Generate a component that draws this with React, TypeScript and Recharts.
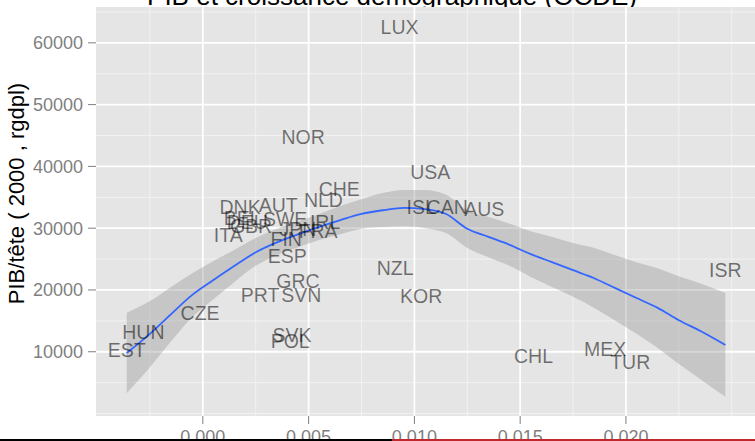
import {
  Area,
  CartesianGrid,
  ComposedChart,
  Line,
  Scatter,
  XAxis,
  YAxis,
} from "recharts";

// OECD countries: population growth (x) vs GDP per head (y)
const countryCodes = [
  "LUX", "NOR", "USA", "CHE", "NLD", "AUT", "DNK", "BEL", "DEU", "GBR",
  "SWE", "JPN", "FRA", "IRL", "FIN", "ITA", "ESP", "GRC", "PRT", "SVN",
  "ISL", "CAN", "AUS", "NZL", "KOR", "ISR", "CZE", "HUN", "EST", "SVK",
  "POL", "CHL", "MEX", "TUR",
];
const popGrowth = [
  0.0093, 0.00474, 0.01075, 0.00645, 0.0057, 0.00356, 0.00176, 0.00186, 0.0021, 0.00228,
  0.00389, 0.0045, 0.00545, 0.00578, 0.00394, 0.0012, 0.00399, 0.0045, 0.00271, 0.00465,
  0.01032, 0.01155, 0.0133, 0.00909, 0.01032, 0.0247, -0.00013, -0.00281, -0.0036, 0.00421,
  0.00413, 0.01563, 0.01902, 0.0202,
];
const gdpPerHead = [
  62500, 44700, 39100, 36300, 34500, 33700, 33400, 31600, 31000, 30300,
  31500, 29900, 29500, 31000, 28200, 28900, 25500, 21400, 19200, 19200,
  33400, 33400, 33100, 23500, 19000, 23200, 16300, 13200, 10300, 12700,
  11800, 9300, 10400, 8400,
];

// loess smooth and its confidence band
const smoothX = [
  -0.0036, -0.0025, -0.0015, -0.0005, 0.0005, 0.0015, 0.0025, 0.0035, 0.0045, 0.0055,
  0.0065, 0.0075, 0.0085, 0.0095, 0.0105, 0.0115, 0.0125, 0.0135, 0.0145, 0.0155,
  0.0165, 0.0175, 0.0185, 0.0195, 0.0205, 0.0215, 0.0225, 0.0235, 0.0247,
];
const smoothFit = [
  9800, 12900, 16100, 19200, 21600, 23900, 26100, 27700, 29000, 30200,
  31300, 32300, 32900, 33300, 33100, 32300, 29900, 28600, 27300, 25800,
  24500, 23200, 21900, 20300, 18700, 17100, 15100, 13400, 11100,
];
const smoothLow = [
  3300, 7500, 11700, 15600, 18500, 21300, 23900, 25600, 26900, 28100,
  29000, 29900, 30200, 30300, 30000, 29200, 26800, 25300, 23900, 22100,
  20500, 18900, 17100, 15000, 12900, 10600, 8000, 5600, 2700,
];
const smoothHigh = [
  16300, 18200, 20500, 22700, 24700, 26500, 28400, 29900, 31100, 32300,
  33600, 34700, 35700, 36200, 36200, 35400, 32900, 31800, 30700, 29500,
  28600, 27600, 26800, 25600, 24500, 23500, 22200, 21100, 19500,
];

const xTicks = [0, 0.005, 0.01, 0.015, 0.02];
const yTicks = [10000, 20000, 30000, 40000, 50000, 60000];
const xMinor = [-0.0025, 0.0025, 0.0075, 0.0125, 0.0175, 0.0225, 0.025];
const yMinor = [0, 5000, 15000, 25000, 35000, 45000, 55000, 65000];

const countries = countryCodes.map((code, i) => ({
  code,
  x: popGrowth[i],
  y: gdpPerHead[i],
}));

const smoothRows = smoothX.map((x, i) => ({
  x,
  fit: smoothFit[i],
  band: [smoothLow[i], smoothHigh[i]],
}));

const font = "'Liberation Sans', Arial, Helvetica, sans-serif";
const tickStyle = { fontSize: 18, fill: "#7f7f7f", fontFamily: font };

function CountryLabel(props: any) {
  const { cx, cy, payload } = props;
  return (
    <text
      x={cx}
      y={cy}
      dy="0.36em"
      textAnchor="middle"
      fontSize={19.5}
      fontFamily={font}
      fill="#000"
      fillOpacity={0.53}
    >
      {payload.code}
    </text>
  );
}

export default function App() {
  return (
    <div
      style={{
        position: "absolute",
        left: 0,
        top: 0,
        width: 755,
        height: 441,
        overflow: "hidden",
        background: "#fff",
      }}
    >
      {/* title and y title sit behind the chart */}
      <svg
        width={755}
        height={441}
        style={{ position: "absolute", left: 0, top: 0 }}
      >
        <text x={392} y={5} textAnchor="middle" fontSize={26} fontFamily={font} fill="#000">
          PIB et croissance démographique (OCDE)
        </text>
        <text
          x={23.5}
          y={193.5}
          transform="rotate(-90 23.5 193.5)"
          textAnchor="middle"
          fontSize={22}
          fontFamily={font}
          fill="#000"
        >
          PIB/tête ( 2000 , rgdpl)
        </text>
      </svg>

      <div style={{ position: "absolute", left: 0, top: 0 }}>
        <ComposedChart
          width={755}
          height={441}
          data={smoothRows}
          margin={{ top: 7, right: 0, bottom: 0, left: 0 }}
        >
          <CartesianGrid
            fill="#e5e5e5"
            stroke="#f2f2f2"
            strokeWidth={1}
            horizontalValues={yMinor}
            verticalValues={xMinor}
          />
          <CartesianGrid
            stroke="#ffffff"
            strokeWidth={1.8}
            horizontalValues={yTicks}
            verticalValues={xTicks}
          />
          <XAxis
            dataKey="x"
            type="number"
            domain={[-0.00505, 0.0261]}
            ticks={xTicks}
            tickFormatter={(v: number) => v.toFixed(3)}
            allowDataOverflow
            axisLine={false}
            tickSize={8}
            tickMargin={6}
            tickLine={{ stroke: "#7f7f7f" }}
            tick={tickStyle}
            height={25}
          />
          <YAxis
            type="number"
            domain={[-400, 65800]}
            ticks={yTicks}
            allowDataOverflow
            axisLine={false}
            tickSize={8}
            tickMargin={5}
            tickLine={{ stroke: "#7f7f7f" }}
            tick={tickStyle}
            width={96}
          />
          <Scatter
            data={countries}
            dataKey="y"
            shape={CountryLabel}
            isAnimationActive={false}
          />
          <Area
            dataKey="band"
            type="monotone"
            fill="#999999"
            fillOpacity={0.4}
            stroke="none"
            isAnimationActive={false}
            activeDot={false}
          />
          <Line
            dataKey="fit"
            type="monotone"
            stroke="#3366ff"
            strokeWidth={1.8}
            dot={false}
            activeDot={false}
            isAnimationActive={false}
          />
        </ComposedChart>
      </div>

      {/* bottom edge strip of the original capture */}
      <div style={{ position: "absolute", left: 0, top: 439, width: 392, height: 2, background: "#000" }} />
      <div style={{ position: "absolute", left: 392, top: 439, width: 363, height: 2, background: "#c0282d" }} />
    </div>
  );
}
